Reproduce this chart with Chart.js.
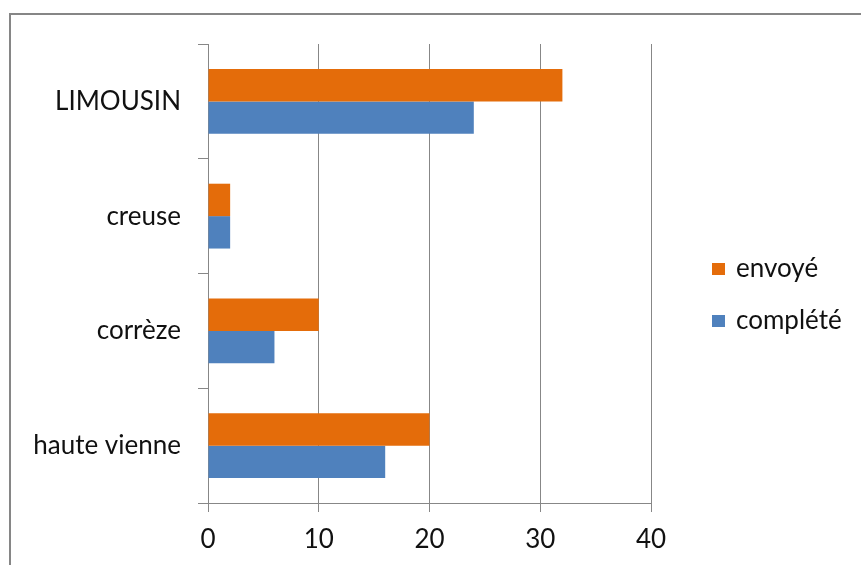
<!DOCTYPE html>
<html>
<head>
<meta charset="utf-8">
<script src="https://cdn.jsdelivr.net/npm/chart.js@4/dist/chart.umd.min.js"></script>
<style>
  html, body { margin: 0; padding: 0; background: #ffffff; }
  #wrap { width: 861px; height: 565px; }
</style>
</head>
<body>
<div id="wrap"><canvas id="c" width="861" height="565"></canvas></div>
<script>
// Questionnaires par département
const categories = ['LIMOUSIN', 'creuse', 'corrèze', 'haute vienne'];
const envoye = [32, 2, 10, 20];
const complete = [24, 2, 6, 16];
const seriesNames = ['envoyé', 'complété'];
const xMin = 0, xMax = 40, xStep = 10;

const FONT = 'Lato';
const FONT_SIZE = 26;
const GRID = '#878787';
const TEXT = '#111111';

// outer frame of the chart
const framePlugin = {
  id: 'frame',
  beforeDraw(chart) {
    const ctx = chart.ctx;
    ctx.save();
    ctx.fillStyle = '#ffffff';
    ctx.fillRect(0, 0, chart.width, chart.height);
    ctx.strokeStyle = '#868686';
    ctx.lineWidth = 2;
    ctx.strokeRect(10, 14, chart.width + 20, chart.height + 20);
    ctx.restore();
  }
};

// legend on the right, one square + label per series
const sideLegend = {
  id: 'sideLegend',
  afterDraw(chart) {
    const ctx = chart.ctx;
    ctx.save();
    ctx.font = FONT_SIZE + 'px ' + FONT;
    ctx.textBaseline = 'middle';
    ctx.textAlign = 'left';
    chart.data.datasets.forEach((ds, i) => {
      const y = 263 + i * 52;
      ctx.fillStyle = ds.backgroundColor;
      ctx.fillRect(712, y, 13, 12);
      ctx.fillStyle = TEXT;
      ctx.fillText(ds.label, 736, y + 6);
    });
    ctx.restore();
  }
};

new Chart(document.getElementById('c'), {
  type: 'bar',
  data: {
    labels: categories,
    datasets: [
      { label: seriesNames[0], data: envoye, backgroundColor: '#E46C0A' },
      { label: seriesNames[1], data: complete, backgroundColor: '#4F81BD' }
    ]
  },
  options: {
    indexAxis: 'y',
    responsive: false,
    devicePixelRatio: 1,
    animation: false,
    categoryPercentage: 0.565,
    barPercentage: 1.0,
    layout: { padding: { left: 0, top: 44, right: 210, bottom: 0 } },
    plugins: { legend: { display: false }, tooltip: { enabled: false } },
    scales: {
      x: {
        type: 'linear',
        min: xMin,
        max: xMax,
        ticks: { stepSize: xStep, font: { family: FONT, size: FONT_SIZE }, color: TEXT, padding: 12 },
        grid: { color: GRID, lineWidth: 1, tickLength: 9, drawOnChartArea: true },
        border: { color: GRID, width: 1 },
        afterFit(scale) { scale.height = 62; }
      },
      y: {
        type: 'category',
        offset: true,
        ticks: { font: { family: FONT, size: FONT_SIZE }, color: TEXT, padding: 17 },
        grid: { offset: true, drawOnChartArea: false, color: GRID, tickLength: 10 },
        border: { color: GRID, width: 1 },
        afterFit(scale) { scale.width = 208; }
      }
    }
  },
  plugins: [framePlugin, sideLegend]
});
</script>
</body>
</html>
